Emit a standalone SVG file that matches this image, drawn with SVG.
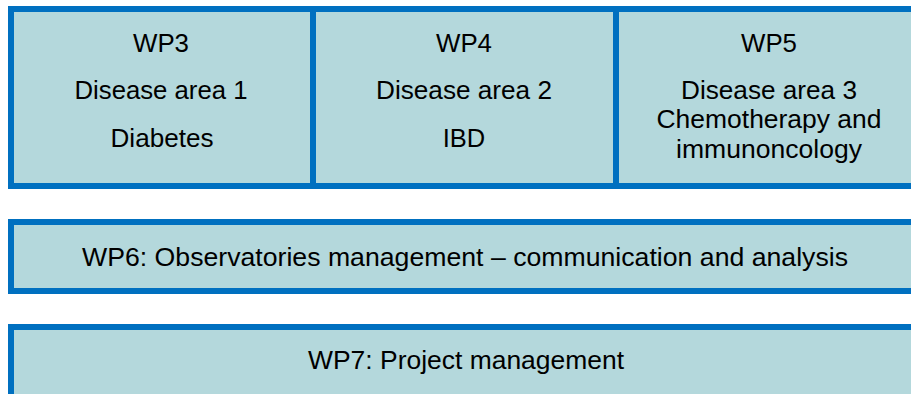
<svg xmlns="http://www.w3.org/2000/svg" width="911" height="394" viewBox="0 0 911 394">
  <style>
    .box { fill: #b4d8dc; stroke: #0070c0; stroke-width: 6; }
    .t { font-family: "Liberation Sans", Arial, sans-serif; font-size: 25.5px; fill: #000; text-anchor: middle; }
  </style>
  <rect x="0" y="0" width="911" height="394" fill="#ffffff"/>
  <g id="wp3">
    <rect class="box" x="11" y="9" width="302" height="177"/>
    <text class="t" x="161" y="52" textLength="56" lengthAdjust="spacingAndGlyphs">WP3</text>
    <text class="t" x="161" y="99" textLength="173" lengthAdjust="spacingAndGlyphs">Disease area 1</text>
    <text class="t" x="162" y="147" textLength="103" lengthAdjust="spacingAndGlyphs">Diabetes</text>
  </g>
  <g id="wp4">
    <rect class="box" x="313" y="9" width="303" height="177"/>
    <text class="t" x="464" y="52" textLength="56" lengthAdjust="spacingAndGlyphs">WP4</text>
    <text class="t" x="464" y="99" textLength="176" lengthAdjust="spacingAndGlyphs">Disease area 2</text>
    <text class="t" x="464" y="147">IBD</text>
  </g>
  <g id="wp5">
    <rect class="box" x="616" y="9" width="330" height="177"/>
    <text class="t" x="769" y="52" textLength="56" lengthAdjust="spacingAndGlyphs">WP5</text>
    <text class="t" x="769" y="99" textLength="176" lengthAdjust="spacingAndGlyphs">Disease area 3</text>
    <text class="t" x="769" y="128" textLength="225" lengthAdjust="spacingAndGlyphs">Chemotherapy and</text>
    <text class="t" x="769" y="158" textLength="186" lengthAdjust="spacingAndGlyphs">immunoncology</text>
  </g>
  <g id="wp6">
    <rect class="box" x="11" y="222" width="930" height="69"/>
    <text class="t" x="465" y="266" textLength="766" lengthAdjust="spacingAndGlyphs">WP6: Observatories management – communication and analysis</text>
  </g>
  <g id="wp7">
    <rect class="box" x="11" y="327" width="930" height="100"/>
    <text class="t" x="466" y="369" textLength="316" lengthAdjust="spacingAndGlyphs">WP7: Project management</text>
  </g>
</svg>
